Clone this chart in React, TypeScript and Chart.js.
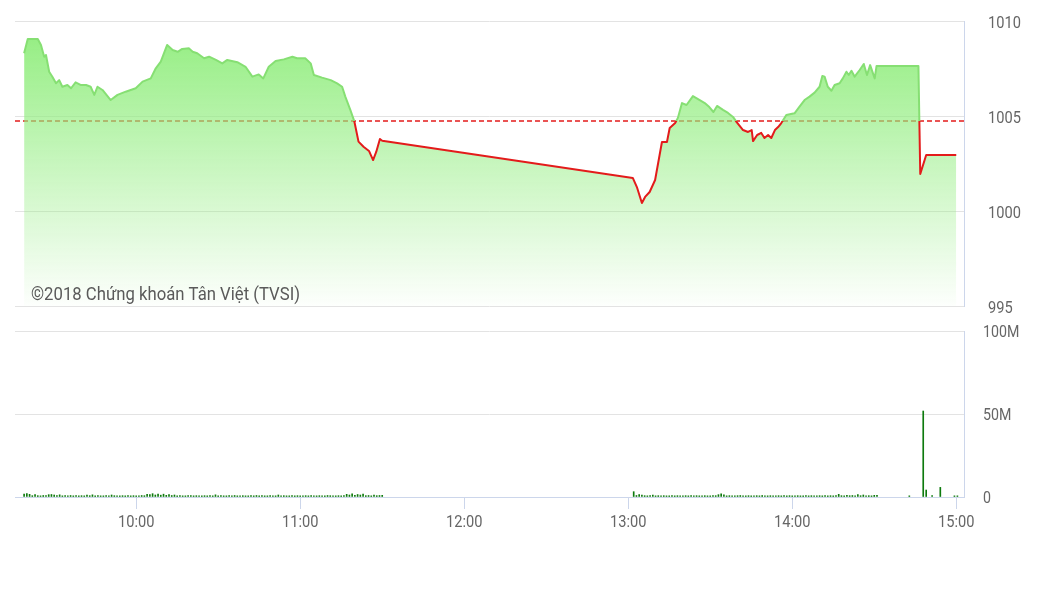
import React, { useEffect, useRef } from "react";
import { Chart, registerables } from "chart.js";

Chart.register(...registerables);

// ---------- data ----------
const REF_PRICE = 1004.74;

const priceTimes = [
  "09:19:00", "09:20:20", "09:24:00", "09:25:10", "09:26:20", "09:27:00", "09:28:10", "09:29:20",
  "09:30:40", "09:31:50", "09:33:00", "09:34:50", "09:36:10", "09:37:50", "09:39:50", "09:41:40",
  "09:43:20", "09:44:40", "09:45:50", "09:47:40", "09:50:40", "09:53:10", "09:56:10", "09:58:00",
  "09:59:50", "10:02:20", "10:05:20", "10:07:10", "10:09:00", "10:11:20", "10:13:20", "10:15:10",
  "10:16:50", "10:19:20", "10:20:40", "10:22:20", "10:24:50", "10:26:40", "10:29:10", "10:31:30",
  "10:33:20", "10:37:00", "10:40:00", "10:42:30", "10:44:50", "10:46:30", "10:48:30", "10:51:00",
  "10:54:00", "10:57:10", "10:58:50", "11:01:50", "11:03:50", "11:05:00", "11:08:00", "11:11:10",
  "11:13:30", "11:15:20", "11:16:30", "11:18:20", "11:19:50", "11:21:20", "11:23:10", "11:25:10",
  "11:26:40", "11:27:50", "11:29:10", "11:30:00",
  "13:01:40", "13:03:10", "13:05:00", "13:06:10", "13:07:50", "13:09:50", "13:12:20", "13:14:10",
  "13:15:10", "13:17:10", "13:18:10", "13:19:40", "13:21:20", "13:23:40", "13:26:10", "13:28:00",
  "13:29:40", "13:31:10", "13:32:30", "13:34:40", "13:36:30", "13:38:20", "13:39:40", "13:42:00",
  "13:43:50", "13:45:10", "13:45:40", "13:47:10", "13:48:40", "13:49:50", "13:51:10", "13:52:20",
  "13:53:40", "13:54:50", "13:56:00", "13:57:50", "14:00:50", "14:02:40", "14:04:30", "14:06:20",
  "14:08:10", "14:10:00", "14:11:00", "14:11:50", "14:13:00", "14:14:20", "14:15:30", "14:17:20",
  "14:18:30", "14:19:50", "14:20:40", "14:21:40", "14:22:50", "14:24:40", "14:26:10", "14:27:20",
  "14:28:30", "14:30:10", "14:30:50", "14:46:10", "14:46:50", "14:49:00", "15:00:00",
];

const priceValues = [
  1008.30, 1009.05, 1009.05, 1008.74, 1008.12, 1008.21, 1007.33, 1007.07,
  1006.72, 1006.89, 1006.54, 1006.63, 1006.46, 1006.77, 1006.63, 1006.63,
  1006.54, 1006.11, 1006.54, 1006.37, 1005.84, 1006.11, 1006.28, 1006.37,
  1006.46, 1006.81, 1006.98, 1007.51, 1007.86, 1008.74, 1008.47, 1008.38,
  1008.53, 1008.56, 1008.38, 1008.30, 1008.04, 1008.12, 1007.95, 1007.77,
  1007.95, 1007.83, 1007.59, 1007.07, 1007.19, 1006.98, 1007.59, 1007.89,
  1007.98, 1008.12, 1008.04, 1008.04, 1007.77, 1007.16, 1007.02, 1006.89,
  1006.72, 1006.54, 1006.02, 1005.32, 1004.70, 1003.65, 1003.38, 1003.16,
  1002.68, 1003.12, 1003.79, 1003.70,
  1001.74, 1001.26, 1000.42, 1000.74, 1001.00, 1001.63, 1003.63, 1003.63,
  1004.37, 1004.63, 1004.90, 1005.68, 1005.58, 1006.05, 1005.84, 1005.68,
  1005.47, 1005.21, 1005.53, 1005.32, 1005.16, 1004.95, 1004.68, 1004.26,
  1004.16, 1004.26, 1003.68, 1004.00, 1004.11, 1003.84, 1004.00, 1003.84,
  1004.26, 1004.42, 1004.63, 1005.05, 1005.14, 1005.49, 1005.84, 1006.02,
  1006.23, 1006.54, 1007.11, 1007.07, 1006.54, 1006.33, 1006.63, 1006.72,
  1006.98, 1007.33, 1007.16, 1007.38, 1007.07, 1007.42, 1007.74, 1007.16,
  1007.68, 1006.98, 1007.63, 1007.63, 1001.95, 1002.95, 1002.95,
];

// volume in millions, one bar per minute from the start time
const volMorningStart = "09:19:00";
const volMorning = [
  1.8, 2.1, 1.6, 0.8, 1.5, 0.8, 0.7, 0.9, 0.8, 1.4, 1.5, 1.2, 0.8, 1.3,
  0.7, 0.8, 0.7, 0.9, 0.7, 0.8, 0.7, 0.8, 0.7, 1.2, 0.8, 1.3,
  0.7, 0.8, 0.7, 0.7, 0.9, 0.7, 1.2,
  0.8, 0.7, 0.7, 0.8, 0.7, 0.9, 0.7, 0.8, 0.7, 0.7, 0.9, 0.8,
  1.6, 1.4, 2.0, 1.2, 1.8, 1.1, 1.7, 1.0, 1.5, 0.9, 1.2,
  0.7, 0.8, 0.7, 0.7, 0.8, 0.9, 0.7, 0.8, 0.7, 0.7, 0.8, 0.7, 0.9, 0.7, 1.3,
  0.7, 0.8, 0.7, 0.7, 0.8, 0.7, 0.9, 0.7, 0.7, 0.8, 0.7, 0.7, 0.8, 0.7, 0.9, 0.7, 0.8, 0.7, 0.7, 0.8, 0.7, 0.7,
  1.2,
  0.7, 0.8, 0.7, 0.7, 0.9, 0.7, 0.8, 0.7, 0.7, 0.8, 0.7, 0.9, 0.7, 0.7, 0.8, 0.7, 0.7, 0.9, 0.8, 0.7, 0.7, 0.8, 0.7, 0.9,
  1.6, 1.2, 1.9, 1.0, 1.5, 1.2, 1.7, 0.8, 0.9, 0.7, 1.1, 0.8, 0.9, 1.0,
];

const volAfternoonStart = "13:02:00";
const volAfternoon = [
  3.2, 0.9, 1.5, 1.2, 0.8, 0.7, 0.9, 1.2, 0.7, 0.8,
  0.7, 0.8, 0.7, 0.7, 0.9, 0.7, 0.8, 0.7, 0.7, 0.8, 0.7, 0.9, 0.7, 0.8, 0.7, 0.7, 0.8, 0.7, 0.7, 0.9, 0.8,
  1.4, 1.9, 1.3,
  0.7, 0.8, 0.7, 0.7, 0.8, 0.9, 0.7, 0.7, 0.8, 0.7, 0.7, 0.8, 0.7, 0.9, 0.7, 0.7, 0.8, 0.7, 0.7, 0.8,
  0.7, 0.9, 0.7, 0.8, 0.7, 0.7, 0.8, 0.7, 0.7, 0.9, 0.7, 0.8, 0.7, 0.7, 0.8, 0.7, 0.9, 0.7, 0.8, 0.7,
  0.8, 1.6, 0.8, 0.7, 1.0, 0.8, 0.9, 0.7, 1.5, 0.8, 1.2, 0.7, 0.8, 0.7, 1.0, 1.0,
];

const volCloseTimes = ["14:42:50", "14:47:55", "14:49:00", "14:51:10", "14:54:10", "14:59:20", "15:00:25"];
const volCloseValues = [0.7, 51.8, 4.2, 0.8, 5.8, 0.7, 0.7];

const xTickLabels = ["10:00", "11:00", "12:00", "13:00", "14:00", "15:00"];
const X_MIN_TIME = "09:15:40";
const X_MAX_TIME = "15:02:50";

const priceTickValues = [995, 1000, 1005, 1010];
const priceTickLabels = ["995", "1000", "1005", "1010"];
const volTickValues = [0, 50, 100];
const volTickLabels = ["0", "50M", "100M"];

const WATERMARK = "©2018 Chứng khoán Tân Việt (TVSI)";

// ---------- helpers ----------
function toMin(s: string): number {
  const [h, m, sec] = s.split(":").map(Number);
  return (h - 9) * 60 + m + (sec || 0) / 60;
}

const X_MIN = toMin(X_MIN_TIME);
const X_MAX = toMin(X_MAX_TIME);

const GREEN_LINE = "#86df73";
const RED_LINE = "#e31b1b";
const LABEL_COLOR = "#666666";
const AXIS_COLOR = "#ccd6eb";
const GRID_COLOR = "#e3e3e3";
const FONT = "Roboto";
const SX = 0.86;

function drawText(
  ctx: CanvasRenderingContext2D,
  text: string,
  x: number,
  y: number,
  size: number,
  align: CanvasTextAlign,
  sx: number,
  color: string
) {
  ctx.save();
  ctx.font = `${size}px ${FONT}`;
  ctx.fillStyle = color;
  ctx.textAlign = align;
  ctx.textBaseline = "alphabetic";
  ctx.translate(x, y);
  ctx.scale(sx, 1);
  ctx.fillText(text, 0, 0);
  ctx.restore();
}

export default function App() {
  const topRef = useRef<HTMLCanvasElement | null>(null);
  const botRef = useRef<HTMLCanvasElement | null>(null);

  useEffect(() => {
    if (!topRef.current || !botRef.current) return;

    const pricePoints = priceTimes.map((t, i) => ({ x: toMin(t), y: priceValues[i] }));

    const volPoints: { x: number; y: number }[] = [];
    const m0 = toMin(volMorningStart);
    volMorning.forEach((v, i) => volPoints.push({ x: m0 + i, y: v }));
    const a0 = toMin(volAfternoonStart);
    volAfternoon.forEach((v, i) => volPoints.push({ x: a0 + i, y: v }));
    volCloseTimes.forEach((t, i) => volPoints.push({ x: toMin(t), y: volCloseValues[i] }));

    const topPlugin = {
      id: "topDecor",
      beforeDatasetsDraw(chart: any) {
        const { ctx, chartArea, scales } = chart;
        const y = scales.y.getPixelForValue(REF_PRICE);
        ctx.save();
        ctx.strokeStyle = RED_LINE;
        ctx.lineWidth = 1.5;
        ctx.setLineDash([5, 3]);
        ctx.beginPath();
        ctx.moveTo(chartArea.left, y);
        ctx.lineTo(chartArea.right, y);
        ctx.stroke();
        ctx.restore();
      },
      afterDraw(chart: any) {
        const { ctx, chartArea, scales } = chart;
        priceTickValues.forEach((v, i) => {
          const py = scales.y.getPixelForValue(v);
          drawText(ctx, priceTickLabels[i], chartArea.right + 24, py + 7, 17, "left", SX, LABEL_COLOR);
        });
        ctx.save();
        ctx.font = `18px ${FONT}`;
        const w = ctx.measureText(WATERMARK).width;
        ctx.restore();
        drawText(ctx, WATERMARK, chartArea.left + 16, chartArea.bottom - 6, 18, "left", 269 / w, "#5a5a5a");
      },
    };

    const botPlugin = {
      id: "botDecor",
      afterDraw(chart: any) {
        const { ctx, chartArea, scales } = chart;
        volTickValues.forEach((v, i) => {
          const py = scales.y.getPixelForValue(v);
          drawText(ctx, volTickLabels[i], chartArea.right + 19, py + 6, 16.5, "left", SX, LABEL_COLOR);
        });
        xTickLabels.forEach((lab) => {
          const px = scales.x.getPixelForValue(toMin(lab));
          drawText(ctx, lab, px, chartArea.bottom + 29.5, 17, "center", SX, LABEL_COLOR);
        });
      },
    };

    const lineStroke = (c: any) => {
      const chart = c.chart;
      const { chartArea, scales } = chart;
      if (!chartArea) return GREEN_LINE;
      const y = scales.y.getPixelForValue(REF_PRICE);
      const f = Math.min(1, Math.max(0, (y - chartArea.top) / (chartArea.bottom - chartArea.top)));
      const g = chart.ctx.createLinearGradient(0, chartArea.top, 0, chartArea.bottom);
      g.addColorStop(0, GREEN_LINE);
      g.addColorStop(f, GREEN_LINE);
      g.addColorStop(f, RED_LINE);
      g.addColorStop(1, RED_LINE);
      return g;
    };

    const areaFill = (c: any) => {
      const chart = c.chart;
      const { chartArea } = chart;
      if (!chartArea) return "rgba(144,237,125,0.5)";
      const g = chart.ctx.createLinearGradient(0, chartArea.top, 0, chartArea.bottom);
      g.addColorStop(0, "rgba(144,237,125,1)");
      g.addColorStop(0.5, "rgba(144,237,125,0.5)");
      g.addColorStop(1, "rgba(144,237,125,0.02)");
      return g;
    };

    const topChart = new Chart(topRef.current, {
      type: "line",
      data: {
        datasets: [
          {
            data: pricePoints,
            borderColor: lineStroke,
            backgroundColor: areaFill,
            fill: "start",
            borderWidth: 2,
            pointRadius: 0,
            tension: 0,
            borderJoinStyle: "round",
          } as any,
        ],
      },
      options: {
        responsive: false,
        animation: false,
        events: [],
        layout: { padding: { left: 15, top: 21, right: 0, bottom: 14 } },
        plugins: { legend: { display: false }, tooltip: { enabled: false } },
        scales: {
          x: { type: "linear", min: X_MIN, max: X_MAX, display: false },
          y: {
            type: "linear",
            position: "right",
            min: 995,
            max: 1010,
            afterBuildTicks: (s: any) => {
              s.ticks = priceTickValues.map((v) => ({ value: v }));
            },
            afterFit: (s: any) => {
              s.width = 93;
            },
            ticks: { display: false },
            grid: { color: GRID_COLOR, drawTicks: false, lineWidth: 1 },
            border: { display: true, color: AXIS_COLOR, width: 1 },
          },
        },
      },
      plugins: [topPlugin],
    } as any);

    const botChart = new Chart(botRef.current, {
      type: "bar",
      data: {
        datasets: [
          {
            data: volPoints,
            backgroundColor: "#0d7a0d",
            borderWidth: 0,
            barThickness: 1,
            grouped: false,
          } as any,
        ],
      },
      options: {
        responsive: false,
        animation: false,
        events: [],
        layout: { padding: { left: 15, top: 11, right: 0, bottom: 0 } },
        plugins: { legend: { display: false }, tooltip: { enabled: false } },
        scales: {
          x: {
            type: "linear",
            min: X_MIN,
            max: X_MAX,
            offset: false,
            position: "bottom",
            afterBuildTicks: (s: any) => {
              s.ticks = xTickLabels.map((l) => ({ value: toMin(l) }));
            },
            afterFit: (s: any) => {
              s.height = 97;
            },
            ticks: { display: false },
            grid: {
              offset: false,
              drawOnChartArea: false,
              drawTicks: true,
              tickLength: 12,
              color: AXIS_COLOR,
            },
            border: { display: true, color: AXIS_COLOR, width: 1 },
          },
          y: {
            type: "linear",
            position: "right",
            min: 0,
            max: 100,
            afterBuildTicks: (s: any) => {
              s.ticks = volTickValues.map((v) => ({ value: v }));
            },
            afterFit: (s: any) => {
              s.width = 93;
            },
            ticks: { display: false },
            grid: { color: GRID_COLOR, drawTicks: false, lineWidth: 1 },
            border: { display: true, color: AXIS_COLOR, width: 1 },
          },
        },
      },
      plugins: [botPlugin],
    } as any);

    return () => {
      topChart.destroy();
      botChart.destroy();
    };
  }, []);

  return (
    <div
      style={{
        position: "absolute",
        left: 0,
        top: 0,
        width: 1057,
        height: 594,
        background: "#ffffff",
      }}
    >
      <canvas
        ref={topRef}
        width={1057}
        height={320}
        style={{ position: "absolute", left: 0, top: 0, width: 1057, height: 320 }}
      />
      <canvas
        ref={botRef}
        width={1057}
        height={274}
        style={{ position: "absolute", left: 0, top: 320, width: 1057, height: 274 }}
      />
    </div>
  );
}
